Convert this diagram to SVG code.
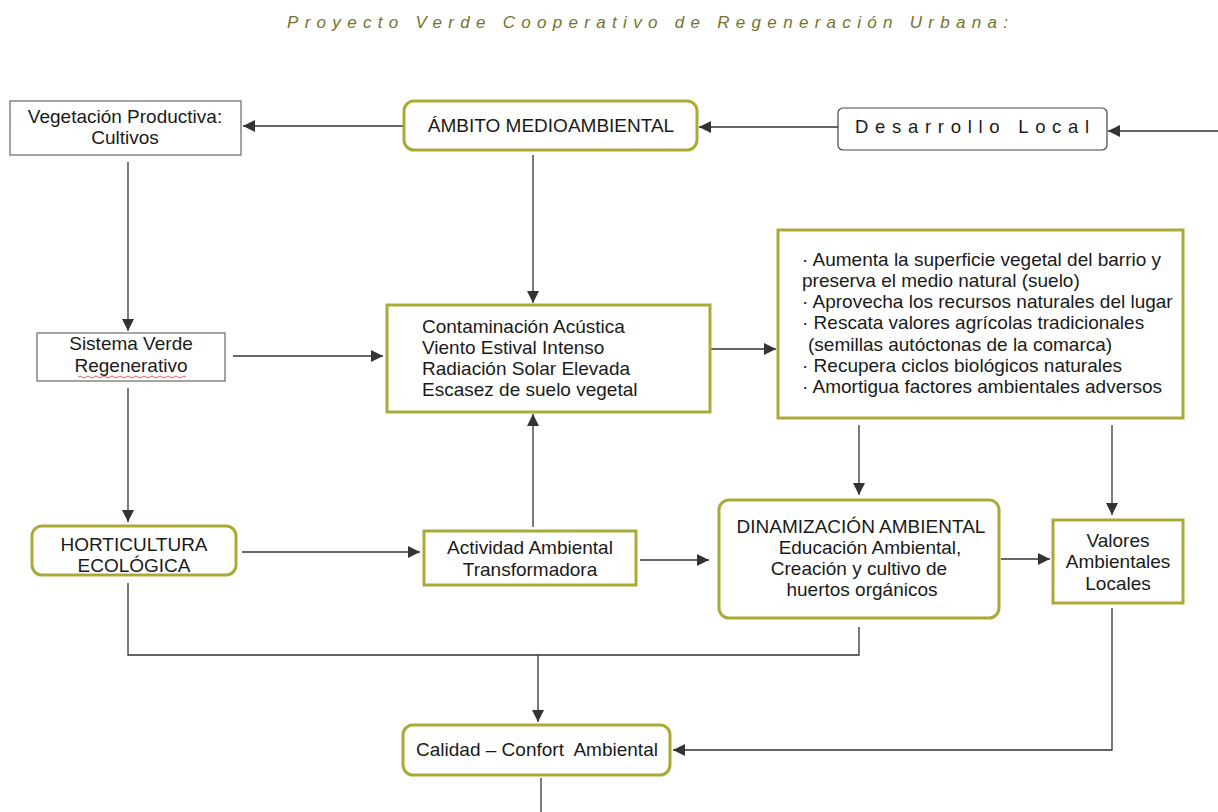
<svg xmlns="http://www.w3.org/2000/svg" width="1218" height="812" viewBox="0 0 1218 812">
<defs>
<marker id="ah" viewBox="0 0 12 12" refX="12" refY="6" markerWidth="12" markerHeight="12" markerUnits="userSpaceOnUse" orient="auto">
<path d="M0,0 L12,6 L0,12 z" fill="#333"/>
</marker>
<style>
text{font-family:"Liberation Sans",Arial,sans-serif;font-size:19px;fill:#1a1a1a}
.c{text-anchor:middle}
.plain{fill:#fff;stroke:#666;stroke-width:1.2}
.dl{fill:#fff;stroke:#444;stroke-width:1.2}
.ol{fill:#fff;stroke:#aaaa38;stroke-width:3}
.cn{fill:none;stroke:#333;stroke-width:1.3}
.title{font-size:17px;font-style:italic;fill:#75722c;letter-spacing:6.3px}
</style>
</defs>
<rect width="1218" height="812" fill="#fff"/>
<text class="title" x="287" y="28">Proyecto Verde Cooperativo de Regeneración Urbana:</text>

<g id="connectors">
<path class="cn" d="M1218,131 L1108,131" marker-end="url(#ah)"/>
<path class="cn" d="M838,127 L699,127" marker-end="url(#ah)"/>
<path class="cn" d="M404,126 L243,126" marker-end="url(#ah)"/>
<path class="cn" d="M128,162 L128,331" marker-end="url(#ah)"/>
<path class="cn" d="M533,155 L533,303" marker-end="url(#ah)"/>
<path class="cn" d="M233,356 L383,356" marker-end="url(#ah)"/>
<path class="cn" d="M128,388 L128,522" marker-end="url(#ah)"/>
<path class="cn" d="M242,552 L420,552" marker-end="url(#ah)"/>
<path class="cn" d="M533,527 L533,414" marker-end="url(#ah)"/>
<path class="cn" d="M640,560 L709,560" marker-end="url(#ah)"/>
<path class="cn" d="M710,349 L776,349" marker-end="url(#ah)"/>
<path class="cn" d="M859,425 L859,495" marker-end="url(#ah)"/>
<path class="cn" d="M1112,425 L1112,515" marker-end="url(#ah)"/>
<path class="cn" d="M1001,559 L1050,559" marker-end="url(#ah)"/>
<path class="cn" d="M128,583 L128,655 L859,655 L859,627"/>
<path class="cn" d="M538,655 L538,722" marker-end="url(#ah)"/>
<path class="cn" d="M1112,608 L1112,750 L673,750" marker-end="url(#ah)"/>
<path class="cn" d="M541,778 L541,812"/>
</g>

<g id="vegetacion">
<rect class="plain" x="10" y="101" width="231" height="54"/>
<text class="c" x="125" y="123">Vegetación Productiva:</text>
<text class="c" x="125" y="144">Cultivos</text>
</g>

<g id="ambito">
<rect class="ol" x="404" y="101" width="293" height="49" rx="10"/>
<text class="c" x="551" y="132">ÁMBITO MEDIOAMBIENTAL</text>
</g>

<g id="desarrollo">
<rect class="dl" x="838" y="108" width="269" height="42" rx="5"/>
<text x="855" y="133" style="font-size:18.5px;letter-spacing:6.7px">Desarrollo Local</text>
</g>

<g id="sistema">
<rect class="plain" x="37" y="333" width="188" height="48"/>
<text class="c" x="131" y="350">Sistema Verde</text>
<text class="c" x="131" y="372">Regenerativo</text>
<path d="M78,377 q2,-2 4,0 t4,0 t4,0 t4,0 t4,0 t4,0 t4,0 t4,0 t4,0 t4,0 t4,0 t4,0 t4,0 t4,0 t4,0 t4,0 t4,0 t4,0 t4,0 t4,0 t4,0 t4,0 t4,0 t4,0 t4,0 t4,0 t4,0" fill="none" stroke="#d33" stroke-width="0.8"/>
</g>

<g id="contaminacion">
<rect class="ol" x="387" y="305" width="323" height="107"/>
<text x="422" y="333">Contaminación Acústica</text>
<text x="422" y="354">Viento Estival Intenso</text>
<text x="422" y="375">Radiación Solar Elevada</text>
<text x="422" y="396">Escasez de suelo vegetal</text>
</g>

<g id="beneficios">
<rect class="ol" x="778" y="230" width="405" height="188"/>
<text x="802" y="266">· Aumenta la superficie vegetal del barrio y</text>
<text x="802" y="287">preserva el medio natural (suelo)</text>
<text x="802" y="308">· Aprovecha los recursos naturales del lugar</text>
<text x="802" y="329">· Rescata valores agrícolas tradicionales</text>
<text x="808" y="351">(semillas autóctonas de la comarca)</text>
<text x="802" y="372">· Recupera ciclos biológicos naturales</text>
<text x="802" y="393">· Amortigua factores ambientales adversos</text>
</g>

<g id="horticultura">
<rect class="ol" x="32" y="526" width="204" height="49" rx="10"/>
<text class="c" x="134" y="551">HORTICULTURA</text>
<text class="c" x="134" y="572">ECOLÓGICA</text>
</g>

<g id="actividad">
<rect class="ol" x="424" y="531" width="212" height="54"/>
<text class="c" x="530" y="554">Actividad Ambiental</text>
<text class="c" x="530" y="576">Transformadora</text>
</g>

<g id="dinamizacion">
<rect class="ol" x="719" y="500" width="280" height="118" rx="10"/>
<text class="c" x="861" y="533">DINAMIZACIÓN AMBIENTAL</text>
<text class="c" x="870" y="554">Educación Ambiental,</text>
<text class="c" x="859" y="575">Creación y cultivo de</text>
<text class="c" x="862" y="596">huertos orgánicos</text>
</g>

<g id="valores">
<rect class="ol" x="1053" y="520" width="130" height="83"/>
<text class="c" x="1118" y="547">Valores</text>
<text class="c" x="1118" y="568">Ambientales</text>
<text class="c" x="1118" y="590">Locales</text>
</g>

<g id="calidad">
<rect class="ol" x="403" y="725" width="267" height="50" rx="10"/>
<text class="c" x="537" y="756">Calidad – Confort&#160; Ambiental</text>
</g>
</svg>
